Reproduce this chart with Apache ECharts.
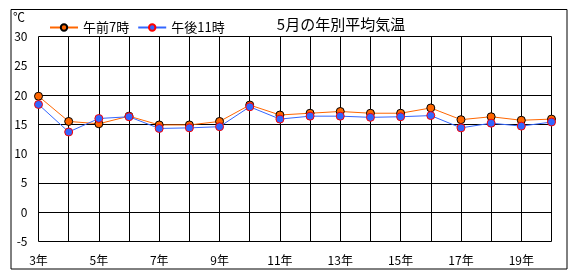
<!DOCTYPE html>
<html><head><meta charset="utf-8">
<script src="https://cdn.jsdelivr.net/npm/echarts@6/dist/echarts.min.js"></script>
<style>html,body{margin:0;padding:0;background:#fff}#c{width:580px;height:280px}</style>
</head><body><div id="c"></div>
<script>
const categories = ['3年','4年','5年','6年','7年','8年','9年','10年','11年','12年','13年','14年','15年','16年','17年','18年','19年','20年'];
const am7 = [19.8,15.5,15.1,16.4,14.9,14.9,15.5,18.3,16.6,16.9,17.2,16.9,16.9,17.8,15.8,16.3,15.7,15.9];
const pm11 = [18.4,13.7,16.0,16.3,14.3,14.4,14.6,18.0,15.9,16.4,16.4,16.2,16.3,16.5,14.4,15.2,14.7,15.4];
const yTicks = {min:-5, max:30, interval:5};
const font = '"Noto Sans CJK JP", sans-serif';
const chart = echarts.init(document.getElementById('c'));
chart.setOption({
  animation:false,
  backgroundColor:'#fff',
  title:{text:'5月の年別平均気温', left:336, textAlign:'center', top:12,
    textStyle:{fontFamily:font, fontSize:15, fontWeight:'normal', color:'#000'}},
  legend:{left:44, top:16, itemGap:8, itemWidth:28, itemHeight:8,
    textStyle:{fontFamily:font, fontSize:13, color:'#000'},
    data:['午前7時','午後11時']},
  graphic:[
    {type:'rect', shape:{x:11, y:9.5, width:556, height:259.5},
     style:{fill:'none', stroke:'#000', lineWidth:1}},
    {type:'text', left:13, top:11, style:{text:'℃', fontFamily:font, fontSize:12, fill:'#000'}}
  ],
  grid:{left:38.5, right:28.5, top:36.5, bottom:38.5},
  xAxis:{type:'category', data:categories, boundaryGap:false,
    axisLine:{show:true, lineStyle:{color:'#000', width:1}},
    axisTick:{show:false},
    axisLabel:{interval:1, color:'#000', fontFamily:font, fontSize:12, margin:13},
    splitLine:{show:true, interval:0, lineStyle:{color:'#000', width:1}}},
  yAxis:{type:'value', min:yTicks.min, max:yTicks.max, interval:yTicks.interval,
    axisLine:{show:false}, axisTick:{show:false},
    axisLabel:{color:'#000', fontFamily:font, fontSize:12, margin:11},
    splitLine:{show:true, lineStyle:{color:'#000', width:1}}},
  series:[
    {name:'午前7時', type:'line', data:am7, symbol:'circle', symbolSize:8,
     lineStyle:{color:'#ff6600', width:1}, itemStyle:{color:'#ff6600', borderColor:'#000', borderWidth:1}},
    {name:'午後11時', type:'line', data:pm11, symbol:'circle', symbolSize:8,
     lineStyle:{color:'#3366ff', width:1}, itemStyle:{color:'#3366ff', borderColor:'#ff0000', borderWidth:1}}
  ]
});
</script></body></html>
